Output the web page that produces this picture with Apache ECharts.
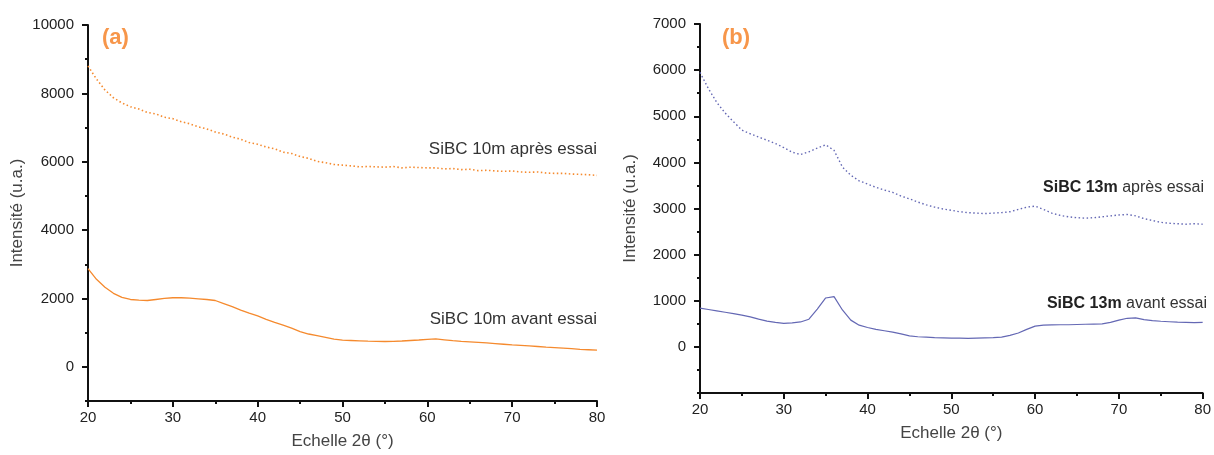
<!DOCTYPE html>
<html><head><meta charset="utf-8">
<script src="https://cdn.jsdelivr.net/npm/echarts@6/dist/echarts.min.js"></script>
<style>html,body{margin:0;padding:0;background:#fff}#c{width:1214px;height:455px}</style>
</head><body><div id="c"></div>
<script>
// 2θ positions (degrees), 1° step
const theta = [];
for (let t = 20; t <= 80; t++) theta.push(t);

// Panel (a): SiBC 10m
const a_apres = [8800,8420,8100,7870,7720,7610,7540,7440,7400,7300,7260,7170,7110,7020,6960,6870,6810,6720,6660,6560,6510,6430,6380,6280,6240,6150,6100,6010,5970,5920,5900,5880,5850,5860,5850,5840,5860,5820,5840,5830,5820,5820,5790,5800,5770,5780,5740,5750,5730,5720,5730,5700,5690,5700,5670,5660,5660,5640,5630,5620,5600];
const a_avant = [2870,2560,2330,2150,2030,1970,1950,1940,1970,2000,2020,2020,2010,1990,1970,1940,1850,1760,1660,1570,1490,1390,1300,1220,1130,1030,960,910,860,810,780,770,760,750,745,740,745,755,770,785,805,815,790,765,745,730,715,700,680,660,640,625,610,595,575,560,545,530,510,500,490];

// Panel (b): SiBC 13m
const b_apres = [5950,5600,5300,5070,4880,4700,4620,4550,4480,4410,4320,4220,4170,4230,4310,4380,4260,3900,3720,3600,3530,3460,3400,3350,3270,3210,3140,3080,3030,2990,2960,2930,2910,2900,2890,2900,2910,2930,2980,3030,3050,2980,2900,2850,2820,2800,2790,2800,2820,2840,2860,2870,2840,2780,2740,2700,2680,2670,2660,2670,2660];
const b_avant = [840,810,780,750,720,690,650,600,560,530,510,520,540,600,820,1060,1090,800,580,470,420,380,350,320,280,240,220,210,200,195,190,190,185,190,195,200,210,250,300,380,450,470,475,480,480,485,490,495,500,530,580,620,630,590,570,555,545,535,530,525,530];

const xTicks = [20,30,40,50,60,70,80];
const yTicksA = [0,2000,4000,6000,8000,10000];
const yTicksB = [0,1000,2000,3000,4000,5000,6000,7000];

const ORANGE = '#F58A2E';
const BLUE = '#6468B4';
const FONT = 'Liberation Sans, Arial, sans-serif';

function pairs(xs, ys){ return xs.map((x,i)=>[x, ys[i]]); }

function xAxis(gi){
  return {
    type:'value', gridIndex:gi, min:20, max:80, interval:10,
    name:'Echelle 2θ (°)', nameLocation:'middle', nameGap:32,
    nameTextStyle:{fontFamily:FONT, fontSize:17, color:'#444'},
    axisLine:{onZero:false, lineStyle:{color:'#111', width:2}},
    axisTick:{show:true, length:6, lineStyle:{color:'#111', width:2}},
    minorTick:{show:true, splitNumber:2, length:3, lineStyle:{color:'#111', width:2}},
    axisLabel:{fontFamily:FONT, fontSize:15, color:'#222', margin:9, formatter:v=>String(v)},
    splitLine:{show:false}
  };
}
function yAxisMain(gi, min, max, ticks, gap){
  return {
    type:'value', gridIndex:gi, min:min, max:max, position:'left',
    name:'Intensité (u.a.)', nameLocation:'middle', nameGap:gap,
    nameTextStyle:{fontFamily:FONT, fontSize:17, color:'#444'},
    axisLine:{onZero:false, lineStyle:{color:'#111', width:2}},
    axisTick:{show:true, length:6, customValues:ticks, lineStyle:{color:'#111', width:2}},
    axisLabel:{fontFamily:FONT, fontSize:15, color:'#222', margin:14, customValues:ticks, formatter:v=>String(v)},
    splitLine:{show:false}
  };
}
function yAxisMinor(gi, min, max, step){
  return {
    type:'value', gridIndex:gi, min:min, max:max, interval:step, position:'left', offset:0,
    axisLine:{show:false}, axisLabel:{show:false}, splitLine:{show:false},
    axisTick:{show:true, length:3, lineStyle:{color:'#111', width:2}}
  };
}

const chart = echarts.init(document.getElementById('c'), null, {renderer:'canvas'});
chart.setOption({
  animation:false,
  backgroundColor:'#fff',
  grid:[
    {left:88, top:25, width:509, height:376},
    {left:700, top:24, width:503, height:369}
  ],
  xAxis:[xAxis(0), xAxis(1)],
  yAxis:[
    yAxisMain(0, -1000, 10000, yTicksA, 62),
    yAxisMain(1, -1000, 7000, yTicksB, 61),
    yAxisMinor(0, -1000, 10000, 1000),
    yAxisMinor(1, -1000, 7000, 500)
  ],
  series:[
    {type:'line', xAxisIndex:0, yAxisIndex:0, data:pairs(theta,a_apres), showSymbol:false,
     lineStyle:{color:ORANGE, width:1.6, type:[1.5,2.5]}},
    {type:'line', xAxisIndex:0, yAxisIndex:0, data:pairs(theta,a_avant), showSymbol:false,
     lineStyle:{color:ORANGE, width:1.3}},
    {type:'line', xAxisIndex:1, yAxisIndex:1, data:pairs(theta,b_apres), showSymbol:false,
     lineStyle:{color:BLUE, width:1.4, type:[1.5,2.5]}},
    {type:'line', xAxisIndex:1, yAxisIndex:1, data:pairs(theta,b_avant), showSymbol:false,
     lineStyle:{color:BLUE, width:1.2}}
  ],
  graphic:[
    {type:'text', left:102, top:27, style:{text:'(a)', fontFamily:FONT, fontSize:22, fontWeight:'bold', fill:'#F7964A'}},
    {type:'text', left:722, top:27, style:{text:'(b)', fontFamily:FONT, fontSize:22, fontWeight:'bold', fill:'#F7964A'}},
    {type:'text', right:1214-597, top:141, style:{text:'SiBC 10m après essai', fontFamily:FONT, fontSize:17, fill:'#333'}},
    {type:'text', right:1214-597, top:311, style:{text:'SiBC 10m avant essai', fontFamily:FONT, fontSize:17, fill:'#333'}},
    {type:'text', right:1214-1204, top:180, style:{text:'{b|SiBC 13m} après essai', fontFamily:FONT, fontSize:16, fill:'#333',
      rich:{b:{fontFamily:FONT, fontSize:16, fontWeight:'bold', fill:'#222'}}}},
    {type:'text', right:1214-1207, top:296, style:{text:'{b|SiBC 13m} avant essai', fontFamily:FONT, fontSize:16, fill:'#333',
      rich:{b:{fontFamily:FONT, fontSize:16, fontWeight:'bold', fill:'#222'}}}}
  ]
});
</script>
</body></html>
